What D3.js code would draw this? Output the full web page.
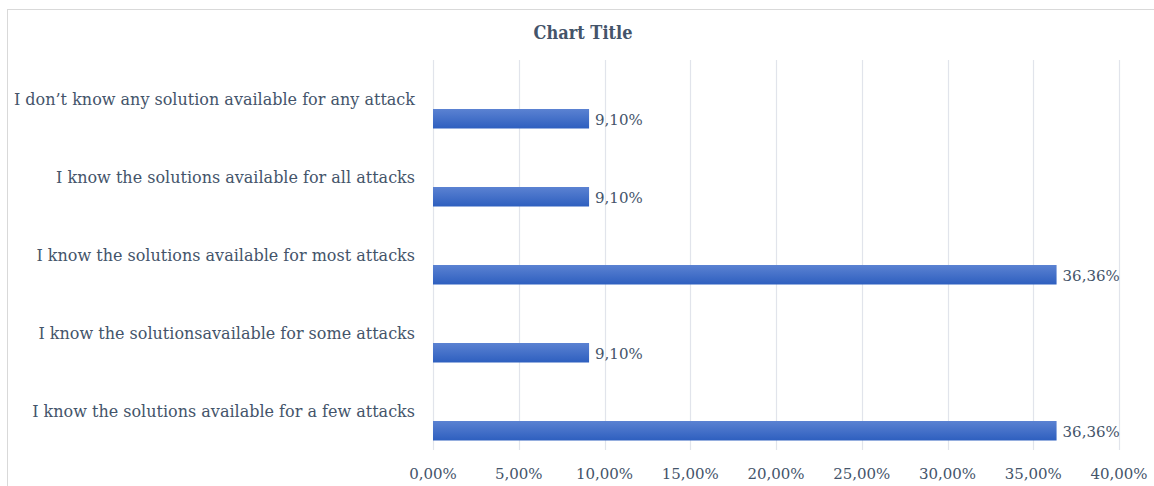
<!DOCTYPE html>
<html>
<head>
<meta charset="utf-8">
<script src="https://cdn.jsdelivr.net/npm/d3@7"></script>
<style>
  html, body { margin: 0; padding: 0; background: #ffffff; }
  svg { display: block; }
  text { font-family: "DejaVu Serif", serif; fill: #44546a; }
</style>
</head>
<body>
<svg id="chart" width="1154" height="486"></svg>
<script>
// Survey answers, listed top to bottom
const categories = [
  "I don\u2019t know any solution available for any attack",
  "I know the solutions available for all attacks",
  "I know the solutions available for most attacks",
  "I know the solutionsavailable for some attacks",
  "I know the solutions available for a few attacks"
];
const values = [9.10, 9.10, 36.36, 9.10, 36.36];
const tickValues = [0, 5, 10, 15, 20, 25, 30, 35, 40];
const chartTitle = "Chart Title";

const W = 1154, H = 486;
const plot = { left: 433, right: 1119, top: 60, bottom: 450 };

const svg = d3.select("#chart");

// gradient used for the bars
const defs = svg.append("defs");
const grad = defs.append("linearGradient")
  .attr("id", "barFill").attr("x1", 0).attr("y1", 0).attr("x2", 0).attr("y2", 1);
grad.append("stop").attr("offset", "0%").attr("stop-color", "#5b82d2");
grad.append("stop").attr("offset", "100%").attr("stop-color", "#2e5fbf");

// chart frame
svg.append("rect")
  .attr("x", 7.5).attr("y", 9.5)
  .attr("width", W).attr("height", H)
  .attr("fill", "none").attr("stroke", "#d9d9d9").attr("stroke-width", 1);

const x = d3.scaleLinear().domain([0, 40]).range([plot.left, plot.right]);
const y = d3.scaleBand().domain(categories).range([plot.top, plot.bottom]);

// vertical gridlines
svg.append("g")
  .selectAll("line")
  .data(tickValues)
  .join("line")
  .attr("x1", d => Math.round(x(d)) + 0.5)
  .attr("x2", d => Math.round(x(d)) + 0.5)
  .attr("y1", plot.top)
  .attr("y2", plot.bottom)
  .attr("stroke", "#e1e4eb")
  .attr("stroke-width", 1.2);

// x axis tick labels
const fmt = v => v.toFixed(2).replace(".", ",") + "%";
svg.append("g")
  .selectAll("text")
  .data(tickValues)
  .join("text")
  .attr("x", d => x(d))
  .attr("y", 479)
  .attr("text-anchor", "middle")
  .style("font-size", "15px")
  .text(fmt);

// category labels
svg.append("g")
  .selectAll("text")
  .data(categories)
  .join("text")
  .attr("x", 415)
  .attr("y", d => y(d) + y.bandwidth() / 2 + 6)
  .attr("text-anchor", "end")
  .style("font-size", "16px")
  .text(d => d);

// bars
const barH = 19.5;
svg.append("g")
  .selectAll("rect")
  .data(values)
  .join("rect")
  .attr("x", x(0))
  .attr("y", (d, i) => y(categories[i]) + y.bandwidth() / 2 + 10)
  .attr("width", d => x(d) - x(0))
  .attr("height", barH)
  .attr("fill", "url(#barFill)");

// value labels
svg.append("g")
  .selectAll("text")
  .data(values)
  .join("text")
  .attr("x", d => x(d) + 6)
  .attr("y", (d, i) => y(categories[i]) + y.bandwidth() / 2 + 10 + barH / 2 + 6)
  .style("font-size", "15px")
  .text(fmt);

// title
svg.append("text")
  .attr("x", 583)
  .attr("y", 39)
  .attr("text-anchor", "middle")
  .style("font-size", "18px")
  .style("font-weight", "bold")
  .style("font-stretch", "condensed")
  .text(chartTitle);
</script>
</body>
</html>
